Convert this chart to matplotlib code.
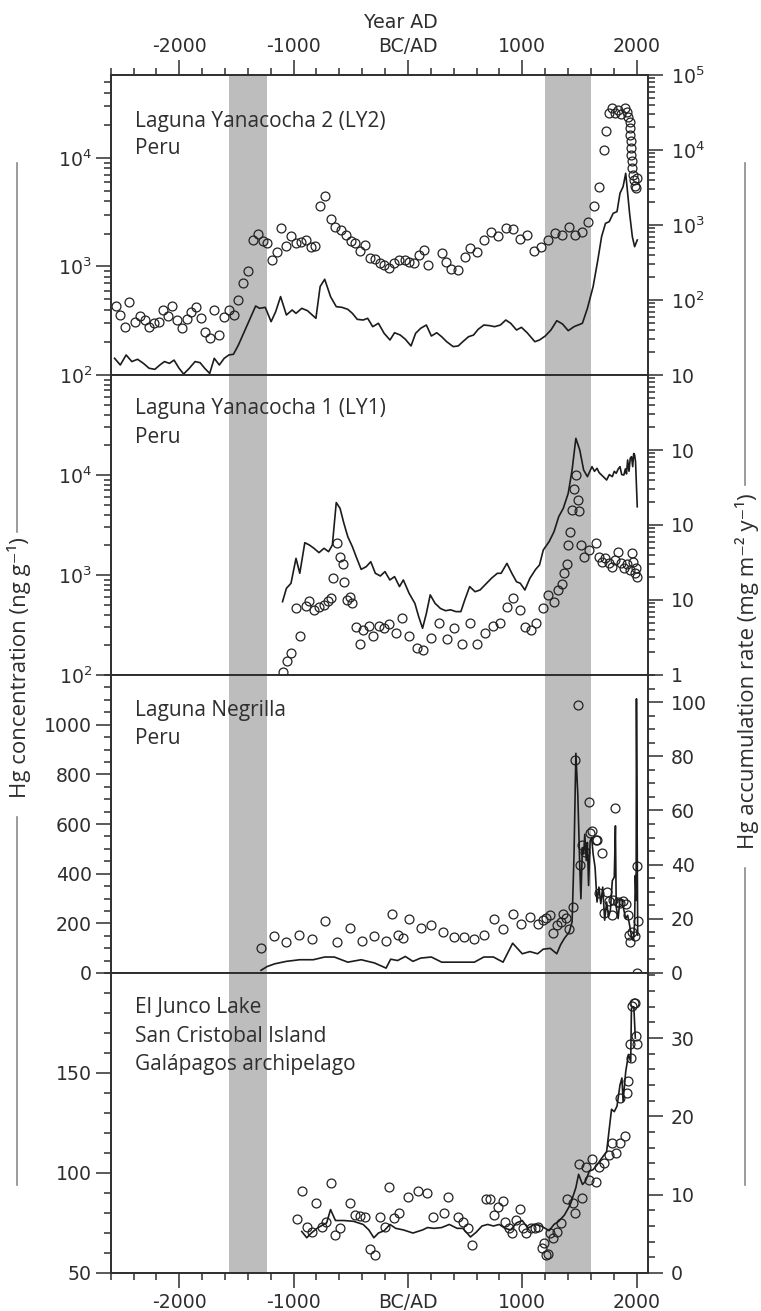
"""
Hg concentration and accumulation records from three Andean lakes and El Junco (Galápagos).
Produces: out.png
"""
import numpy as np
import matplotlib.pyplot as plt
from matplotlib.lines import Line2D
from matplotlib.ticker import (FixedLocator, FixedFormatter, FuncFormatter,
                               LogLocator, MultipleLocator, NullFormatter)

# ── Laguna Yanacocha 2 (LY2) ──────────────────────────────────────────────────
ly2_conc_year = [-2556, -2516, -2472, -2439, -2388, -2345, -2304, -2264, -2221, -2180,
                 -2143, -2096, -2063, -2019, -1979, -1935, -1895, -1851, -1811, -1774,
                 -1734, -1694, -1650, -1607, -1566, -1523, -1483, -1439, -1399, -1358,
                 -1315, -1271, -1231, -1191, -1147, -1107, -1063, -1023, -979, -936,
                 -895, -852, -812, -768, -724, -677, -634, -587, -543, -500,
                 -459, -416, -375, -332, -292, -248, -208, -164, -121, -74,
                 -30, 10, 50, 94, 137, 178, 295, 329, 379, 440,
                 497, 547, 607, 664, 731, 789, 856, 916, 983, 1043,
                 1107, 1168, 1225, 1285, 1352, 1409, 1463, 1520, 1574, 1624,
                 1671, 1714, 1731, 1755, 1781, 1808, 1838, 1865, 1895, 1915,
                 1929, 1939, 1946, 1946, 1949, 1949, 1953, 1956, 1959, 1966,
                 1976, 1986, 1996, 2005]
ly2_conc = [428, 358, 279, 475, 311, 351, 322, 279, 304, 311,
            393, 351, 428, 322, 270, 327, 379, 422, 333, 251,
            218, 398, 234, 345, 398, 358, 492, 702, 899, 1760,
            2000, 1700, 1640, 1150, 1350, 2260, 1530, 1890, 1640, 1670,
            1760, 1510, 1530, 3580, 4430, 2740, 2310, 2180, 1930, 1700,
            1640, 1380, 1590, 1190, 1180, 1070, 1040, 966, 1070, 1150,
            1150, 1110, 1070, 1280, 1430, 1040, 1330, 1110, 944, 918,
            1210, 1480, 1350, 1760, 2060, 1890, 2260, 2210, 1790, 1960,
            1380, 1510, 1760, 2030, 1960, 2310, 1930, 2060, 2560, 3580,
            5400, 11800, 17600, 26000, 29000, 26000, 27900, 25600, 29000, 26400,
            23900, 21300, 18900, 16400, 14300, 12400, 10700, 9310, 8090, 7020,
            6220, 5560, 5280, 6530]
ly2_rate_year = [-2566, -2516, -2465, -2415, -2365, -2314, -2264, -2214, -2170, -2130,
                 -2086, -2046, -2002, -1962, -1912, -1862, -1818, -1778, -1734, -1694,
                 -1650, -1607, -1566, -1526, -1483, -1399, -1332, -1298, -1248, -1197,
                 -1157, -1114, -1063, -1013, -979, -929, -879, -805, -768, -728,
                 -677, -627, -577, -526, -486, -443, -392, -352, -308, -258,
                 -208, -157, -117, -67, -23, 27, 67, 111, 161, 205,
                 252, 295, 339, 396, 440, 480, 530, 574, 614, 664,
                 715, 758, 809, 856, 899, 950, 993, 1043, 1110, 1151,
                 1201, 1251, 1302, 1352, 1402, 1453, 1526, 1570, 1620, 1661,
                 1694, 1728, 1761, 1795, 1829, 1855, 1882, 1905, 1922, 1939,
                 1963, 1983, 2006]
ly2_rate = [16.7, 13.6, 18.5, 15.1, 16.2, 14.3, 12.3, 11.9, 13.6, 15.1,
            14.3, 15.8, 12.3, 10.3, 12.3, 15.1, 14.6, 12.3, 10.5, 16.7,
            13.6, 16.7, 18.5, 18.9, 25.1, 48.9, 83.2, 77.4, 79.8, 51.4,
            69.8, 111, 63.1, 73.6, 66.4, 77.4, 72.1, 57, 151, 189,
            111, 81.5, 79.8, 75.1, 66.4, 55.2, 54.1, 57, 44.1, 48.9,
            35.9, 29.3, 36.6, 34.1, 30, 24.4, 35.9, 41.9, 46.4, 33.1,
            36.6, 32.4, 27.8, 23.9, 24.4, 27.8, 32.4, 34.1, 40.6, 46.4,
            45.5, 44.1, 46.4, 54.1, 48.9, 39.8, 43.2, 36.6, 27.8, 29.3,
            33.1, 39.8, 53, 47.9, 39, 44.1, 48.9, 77.4, 151, 341,
            699, 1050, 1110, 1430, 1510, 2650, 3240, 4890, 2650, 1430,
            699, 514, 631]

# ── Laguna Yanacocha 1 (LY1) ──────────────────────────────────────────────────
ly1_conc_year = [-1097, -1057, -1020, -942, -976, -895, -862, -822, -781, -738,
                 -701, -677, -654, -620, -594, -570, -560, -533, -510, -493,
                 -453, -416, -392, -339, -302, -251, -208, -164, -107, -50,
                 10, 77, 134, 205, 272, 339, 406, 473, 540, 607,
                 674, 741, 809, 866, 916, 976, 1023, 1077, 1117, 1184,
                 1225, 1275, 1312, 1345, 1369, 1392, 1402, 1419, 1436, 1453,
                 1469, 1486, 1493, 1510, 1537, 1587, 1647, 1671, 1694, 1721,
                 1755, 1788, 1815, 1838, 1862, 1889, 1915, 1939, 1956, 1973,
                 1983, 1996, 2006]
ly1_conc = [108, 139, 167, 245, 464, 490, 554, 447, 482, 501,
            554, 585, 926, 2105, 1525, 1288, 858, 562, 598, 521,
            304, 204, 282, 309, 245, 309, 293, 324, 265, 369,
            245, 185, 178, 233, 329, 228, 293, 204, 334, 204,
            265, 309, 329, 475, 585, 447, 304, 282, 329, 464,
            631, 541, 708, 813, 1039, 1288, 1995, 2712, 4467, 7190,
            10000, 5623, 4395, 1995, 1525, 1778, 2073, 1525, 1359, 1468,
            1309, 1211, 1413, 1711, 1309, 1166, 1288, 1122, 1648, 1359,
            1039, 1166, 962]
ly1_rate_year = [-1097, -1063, -1023, -979, -946, -902, -862, -822, -778, -734,
                 -694, -661, -627, -594, -560, -526, -486, -453, -409, -365,
                 -325, -285, -241, -201, -158, -117, -74, -40, 10, 61,
                 94, 128, 161, 195, 238, 285, 329, 373, 420, 463,
                 497, 540, 587, 631, 681, 731, 782, 815, 866, 909,
                 950, 983, 1023, 1067, 1117, 1151, 1184, 1235, 1278, 1319,
                 1359, 1402, 1436, 1469, 1503, 1537, 1570, 1610, 1632, 1654,
                 1672, 1694, 1716, 1738, 1762, 1788, 1805, 1822, 1840, 1855,
                 1870, 1889, 1902, 1912, 1922, 1934, 1945, 1956, 1966, 1975,
                 1983, 1991, 2006]
ly1_rate = [9.5, 14.3, 16.7, 35.9, 22.7, 58.1, 54.1, 48.9, 42.8, 48.9,
            44.1, 54.1, 199, 167, 105, 69.8, 51.4, 37.8, 25.6, 27.8,
            32.4, 22.7, 20.9, 23.9, 18.5, 20.5, 15.1, 18.5, 12.3, 9.0,
            6.0, 4.2, 6.6, 11.7, 9.0, 7.7, 7.2, 7.4, 7.0, 7.0,
            10, 15.1, 12.9, 13.6, 16.3, 19.5, 22.7, 22.7, 30.8, 22.7,
            17.5, 16.7, 13.6, 19.5, 25.6, 29.3, 46.4, 60, 81.5, 129,
            167, 264, 541, 1430, 1000, 541, 441, 600, 520, 570,
            500, 464, 430, 398, 470, 441, 520, 489, 560, 600,
            470, 464, 560, 480, 736, 520, 780, 815, 600, 900,
            858, 700, 175]

# ── Laguna Negrilla ───────────────────────────────────────────────────────────
neg_conc_year = [-1285, -1171, -1063, -952, -842, -728, -620, -510, -406, -298,
                 -194, -141, -90, -40, 10, 111, 205, 306, 399, 493,
                 580, 668, 755, 835, 916, 990, 1067, 1137, 1178, 1211,
                 1245, 1272, 1302, 1335, 1359, 1386, 1412, 1443, 1463, 1486,
                 1503, 1526, 1547, 1580, 1594, 1614, 1641, 1654, 1671, 1694,
                 1714, 1738, 1755, 1781, 1795, 1815, 1839, 1855, 1882, 1905,
                 1922, 1932, 1946, 1962, 1989, 2003, 2006, 2010]
neg_conc = [102, 149, 125, 152, 136, 211, 125, 180, 129, 151,
            128, 237, 153, 140, 219, 180, 194, 167, 146, 144,
            137, 155, 219, 176, 238, 196, 224, 196, 214, 223,
            234, 160, 194, 207, 238, 220, 177, 265, 856, 1078,
            435, 516, 489, 687, 563, 570, 534, 534, 321, 485,
            243, 328, 288, 234, 294, 664, 284, 281, 288, 278,
            234, 153, 126, 167, 149, 429, 1, 211]
neg_rate_year = [-1285, -1231, -1164, -1063, -946, -828, -728, -644, -526, -409,
                 -292, -191, -151, -90, -23, 44, 111, 205, 295, 396,
                 480, 581, 664, 748, 832, 916, 1000, 1067, 1134, 1184,
                 1245, 1302, 1335, 1369, 1412, 1436, 1453, 1469, 1486, 1503,
                 1513, 1526, 1537, 1547, 1560, 1570, 1580, 1594, 1607, 1620,
                 1637, 1654, 1671, 1687, 1704, 1721, 1738, 1755, 1771, 1788,
                 1805, 1815, 1822, 1839, 1855, 1872, 1889, 1905, 1922, 1939,
                 1956, 1973, 1983, 1989, 1996, 1999, 2010]
neg_rate = [1.0, 2.4, 3.4, 4.3, 4.9, 4.9, 5.9, 5.9, 4.0, 4.9,
            3.7, 1.8, 5.1, 4.6, 6.1, 4.3, 5.5, 5.9, 4.0, 4.0,
            4.0, 4.0, 5.9, 5.9, 4.0, 11.0, 7.1, 7.9, 7.1, 8.8,
            9.1, 7.1, 10.4, 12.8, 15.2, 18.9, 43.9, 81.1, 65.9, 39.6,
            27.4, 46.3, 43.9, 51.2, 41.5, 48.2, 32.3, 48.8, 50.0, 43.9,
            39.0, 26.2, 31.7, 25.6, 31.7, 19.5, 26.2, 20.7, 23.2, 34.1,
            35.4, 54.3, 24.4, 20.1, 27.4, 26.8, 23.2, 20.1, 21.3, 17.7,
            13.4, 12.2, 18.9, 36.0, 26.8, 101.2, 14.0]

# ── El Junco Lake ─────────────────────────────────────────────────────────────
ej_conc_year = [-973, -929, -885, -838, -802, -755, -714, -674, -634, -590,
                -506, -459, -416, -375, -335, -292, -248, -204, -164, -124,
                -80, 3, 84, 171, 218, 312, 352, 440, 486, 523,
                564, 681, 721, 755, 788, 829, 849, 882, 909, 943,
                976, 1003, 1033, 1077, 1111, 1134, 1174, 1194, 1211, 1225,
                1245, 1268, 1302, 1335, 1392, 1443, 1459, 1493, 1520, 1560,
                1580, 1614, 1647, 1671, 1714, 1755, 1788, 1822, 1855, 1855,
                1896, 1915, 1929, 1942, 1949, 1963, 1979, 1986, 1999, 2006]
ej_conc = [77.0, 91.0, 73.2, 70.3, 85.2, 73.2, 75.3, 95.2, 69.0, 72.3,
           84.8, 79.0, 78.5, 78.2, 62.2, 59.0, 78.2, 73.2, 92.8, 77.3,
           80.2, 87.8, 91.2, 90.2, 78.2, 79.8, 87.8, 78.2, 75.7, 72.3,
           64.0, 86.8, 86.8, 79.0, 83.2, 86.2, 75.3, 72.3, 69.8, 76.5,
           81.8, 72.3, 69.8, 72.3, 72.3, 73.2, 62.3, 65.2, 59.0, 59.5,
           70.2, 67.3, 70.7, 74.8, 86.8, 84.8, 79.8, 104.5, 87.3, 102.8,
           96.5, 106.8, 95.7, 103.2, 104.8, 109.0, 115.2, 109.8, 114.8, 137.3,
           118.7, 140.2, 146.2, 164.3, 157.3, 183.5, 184.8, 184.8, 168.5, 164.3]
ej_rate_year = [-929, -885, -845, -795, -761, -711, -677, -634, -560, -476,
                -392, -342, -298, -258, -208, -157, -107, -40, 44, 128,
                171, 228, 295, 362, 430, 480, 547, 597, 648, 698,
                748, 799, 849, 899, 950, 1000, 1050, 1101, 1151, 1201,
                1235, 1278, 1319, 1369, 1419, 1469, 1493, 1527, 1553, 1587,
                1620, 1654, 1687, 1738, 1781, 1805, 1829, 1855, 1872, 1882,
                1905, 1929, 1949, 1955, 1976, 1989]
ej_rate = [5.3, 4.5, 5.1, 5.7, 6.0, 6.4, 8.1, 6.7, 6.7, 6.6,
           6.2, 5.5, 4.5, 5.1, 5.4, 6.2, 5.7, 5.5, 5.1, 5.5,
           5.8, 5.7, 5.8, 6.2, 5.7, 5.7, 4.6, 5.2, 6.0, 6.2,
           6.0, 6.2, 5.7, 5.5, 6.4, 6.7, 5.7, 6.2, 6.1, 5.7,
           5.4, 6.2, 6.6, 7.4, 8.7, 10.9, 12.6, 11.3, 11.7, 13.0,
           13.2, 13.8, 14.5, 15.5, 20.9, 20.6, 21.3, 24.0, 24.9, 21.9,
           25.7, 27.9, 27.0, 33.8, 34.0, 30.0]

# shaded intervals (years AD)
bands = [(-1565, -1235), (1200, 1600)]

INK = "#2e2e2e"
BAND = "#bdbdbd"
W, H = 761, 1311

plt.rcParams["font.family"] = "DejaVu Sans"
plt.rcParams["mathtext.default"] = "regular"

fig = plt.figure(figsize=(W / 100, H / 100), dpi=100)
fig.patch.set_facecolor("white")

X_LEFT, X_RIGHT = 110.7, 648.0          # axes edges, px
EDGES = [75, 375, 675, 973, 1273]       # panel boundaries, px from top
TICK = dict(direction="out", color=INK, width=1.1, labelsize=13.6, labelcolor=INK)


def year_label(v, pos):
    return "BC/AD" if v == 0 else f"{int(v)}"


def make_panel(i):
    top, bot = EDGES[i], EDGES[i + 1]
    ax = fig.add_axes([X_LEFT / W, 1 - bot / H, (X_RIGHT - X_LEFT) / W, (bot - top) / H])
    axr = ax.twinx()
    for a in (ax, axr):
        for s in a.spines.values():
            s.set_color(INK)
            s.set_linewidth(1.2)
    ax.set_xlim(-2600, 2100)
    ax.xaxis.set_major_locator(FixedLocator([-2000, -1000, 0, 1000, 2000]))
    ax.xaxis.set_minor_locator(MultipleLocator(200))
    ax.xaxis.set_major_formatter(FuncFormatter(year_label))
    ax.tick_params(axis="x", which="both", bottom=False, top=False,
                   labelbottom=False, labeltop=False)
    ax.tick_params(axis="y", which="major", length=10.5, pad=3, **TICK)
    ax.tick_params(axis="y", which="minor", length=5, **TICK)
    axr.tick_params(axis="y", which="major", length=10.5, pad=6, **TICK)
    axr.tick_params(axis="y", which="minor", length=5, **TICK)
    for lo, hi in bands:
        ax.axvspan(lo, hi, color=BAND, lw=0, zorder=0)
    return ax, axr


def log_axis(a, lo, hi, ticks, labels):
    a.set_yscale("log")
    a.set_ylim(lo, hi)
    a.yaxis.set_major_locator(FixedLocator(ticks))
    a.yaxis.set_major_formatter(FixedFormatter(labels))
    a.yaxis.set_minor_locator(LogLocator(base=10, subs=np.arange(2, 10), numticks=30))
    a.yaxis.set_minor_formatter(NullFormatter())


def lin_axis(a, lo, hi, ticks, minor):
    a.set_ylim(lo, hi)
    a.yaxis.set_major_locator(FixedLocator(ticks))
    a.yaxis.set_major_formatter(FuncFormatter(lambda v, p: f"{v:g}"))
    a.yaxis.set_minor_locator(MultipleLocator(minor))


def draw(ax, axr, cy, cv, ry, rv):
    ax.plot(cy, cv, "o", ms=6.4, mfc="none", mec="#222222", mew=0.9, zorder=3)
    axr.plot(ry, rv, "-", color="#1c1c1c", lw=1.2, zorder=2)


# ── Panel 1: LY2 ──────────────────────────────────────────────────────────────
ax1, ax1r = make_panel(0)
log_axis(ax1, 100, 5.8e4, [1e2, 1e3, 1e4], ["$10^2$", "$10^3$", "$10^4$"])
log_axis(ax1r, 10, 1e5, [1e1, 1e2, 1e3, 1e4, 1e5],
         ["10", "$10^2$", "$10^3$", "$10^4$", "$10^5$"])
draw(ax1, ax1r, ly2_conc_year, ly2_conc, ly2_rate_year, ly2_rate)
ax1.tick_params(axis="x", which="both", top=True, labeltop=True, **TICK)
ax1.tick_params(axis="x", which="major", length=10.5, pad=3.5)
ax1.tick_params(axis="x", which="minor", length=5)

# ── Panel 2: LY1 ──────────────────────────────────────────────────────────────
ax2, ax2r = make_panel(1)
log_axis(ax2, 100, 1e5, [1e2, 1e3, 1e4], ["$10^2$", "$10^3$", "$10^4$"])
log_axis(ax2r, 1, 1e4, [1, 10, 100, 1000], ["1", "10", "10", "10"])
draw(ax2, ax2r, ly1_conc_year, ly1_conc, ly1_rate_year, ly1_rate)

# ── Panel 3: Negrilla ─────────────────────────────────────────────────────────
ax3, ax3r = make_panel(2)
lin_axis(ax3, 0, 1200, [0, 200, 400, 600, 800, 1000], 50)
lin_axis(ax3r, 0, 110, [0, 20, 40, 60, 80, 100], 5)
draw(ax3, ax3r, neg_conc_year, neg_conc, neg_rate_year, neg_rate)

# ── Panel 4: El Junco ─────────────────────────────────────────────────────────
ax4, ax4r = make_panel(3)
lin_axis(ax4, 50, 200, [50, 100, 150], 10)
lin_axis(ax4r, 0, 38.3, [0, 10, 20, 30], 2)
draw(ax4, ax4r, ej_conc_year, ej_conc, ej_rate_year, ej_rate)
ax4.tick_params(axis="x", which="both", bottom=True, labelbottom=True, **TICK)
ax4.tick_params(axis="x", which="major", length=10.5, pad=4)
ax4.tick_params(axis="x", which="minor", length=5)

# ── Site names ────────────────────────────────────────────────────────────────
site_text = [
    (["Laguna Yanacocha 2 (LY2)", "Peru"], [127, 154]),
    (["Laguna Yanacocha 1 (LY1)", "Peru"], [414, 443]),
    (["Laguna Negrilla", "Peru"], [716, 744]),
    (["El Junco Lake", "San Cristobal Island", "Galápagos archipelago"], [1013, 1042, 1070]),
]
for lines, baselines in site_text:
    for s, yb in zip(lines, baselines):
        fig.text(135 / W, 1 - yb / H, s, family=["Open Sans", "DejaVu Sans"],
                 fontsize=15, color=INK, ha="left", va="baseline")

# ── Axis titles and the rules beside them ─────────────────────────────────────
fig.text(401 / W, 1 - 22 / H, "Year AD", ha="center", va="center",
         fontsize=13.6, color=INK)
fig.text(19 / W, 1 - 668 / H, "Hg concentration (ng g⁻¹)", rotation=90,
         ha="center", va="center", fontsize=16, color=INK,
         family=["Open Sans", "DejaVu Sans"])
fig.text(747 / W, 1 - 671 / H, "Hg accumulation rate (mg m⁻² y⁻¹)", rotation=90,
         ha="center", va="center", fontsize=16, color=INK,
         family=["Open Sans", "DejaVu Sans"])

RULE = "#8a8a8a"
for x, y0, y1 in [(17.3, 163, 532), (17.3, 817, 1185), (745, 163, 485), (745, 868, 1185)]:
    fig.add_artist(Line2D([x / W, x / W], [1 - y0 / H, 1 - y1 / H],
                          transform=fig.transFigure, color=RULE, lw=1.2))

fig.savefig("out.png", dpi=100, facecolor="white")
